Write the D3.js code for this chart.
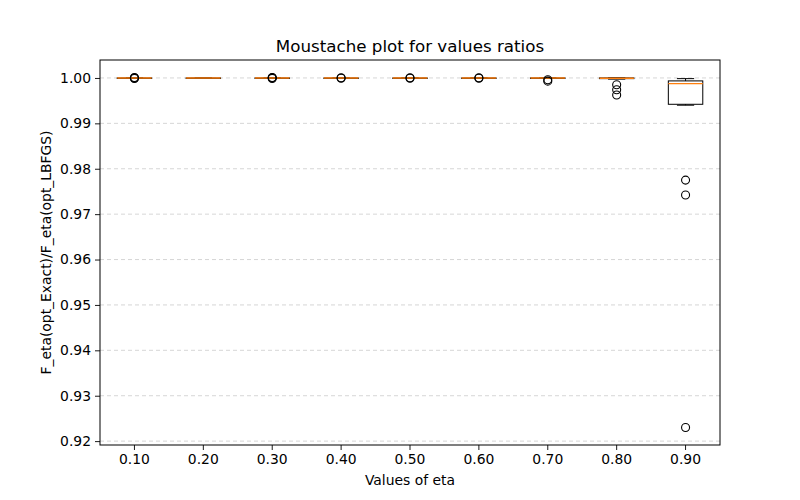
<!DOCTYPE html>
<html>
<head>
<meta charset="utf-8">
<script src="https://cdn.jsdelivr.net/npm/d3@7"></script>
<style>
 body { margin: 0; background: #fff; }
 text { font-family: "DejaVu Sans", sans-serif; }
</style>
</head>
<body>
<script>
const width = 800;
const height = 500;

// categories and box statistics
const etaLabels = ["0.10", "0.20", "0.30", "0.40", "0.50", "0.60", "0.70", "0.80", "0.90"];
const whiskerLow  = [0.99995, 0.99998, 0.99995, 0.99996, 0.99996, 0.99997, 0.99990, 0.99975, 0.99400];
const q1Values    = [0.99998, 0.99999, 0.99998, 0.99998, 0.99998, 0.99999, 0.99995, 0.99985, 0.99420];
const medians     = [0.99999, 1.00000, 0.99999, 0.99999, 0.99999, 1.00000, 0.99998, 0.99995, 0.99875];
const q3Values    = [1.00000, 1.00000, 1.00000, 1.00000, 1.00000, 1.00000, 1.00000, 1.00000, 0.99935];
const whiskerHigh = [1.00002, 1.00001, 1.00002, 1.00001, 1.00001, 1.00001, 1.00002, 1.00003, 0.99985];
const outliers = [
 [1.00000, 0.99990, 1.00008],
 [],
 [1.00010, 0.99990, 1.00003],
 [1.00005, 0.99992],
 [1.00005, 0.99993],
 [1.00006, 0.99994],
 [0.99960, 0.99930],
 [0.99850, 0.99740, 0.99625],
 [0.97750, 0.97420, 0.92300]
];
const yTicks = [0.92, 0.93, 0.94, 0.95, 0.96, 0.97, 0.98, 0.99, 1.00];

const margin = {left: 100, right: 80, top: 60, bottom: 55};
const plotW = width - margin.left - margin.right;
const plotH = height - margin.top - margin.bottom;

const boxes = etaLabels.map((label, i) => ({
 label: label,
 lo: whiskerLow[i], q1: q1Values[i], med: medians[i], q3: q3Values[i], hi: whiskerHigh[i],
 fliers: outliers[i]
}));

// y range with matplotlib style 5% padding
const allVals = boxes.flatMap(b => [b.lo, b.hi].concat(b.fliers));
const yMin = d3.min(allVals), yMax = d3.max(allVals);
const pad = (yMax - yMin) * 0.05;

const x = d3.scaleBand().domain(etaLabels).range([0, plotW]).padding(0);
const y = d3.scaleLinear().domain([yMin - pad, yMax + pad]).range([plotH, 0]);
const boxW = x.bandwidth() * 0.5;

const svg = d3.select("body").append("svg")
 .attr("width", width)
 .attr("height", height);

const g = svg.append("g").attr("transform", "translate(" + margin.left + "," + margin.top + ")");

// grid
g.append("g")
 .selectAll("line")
 .data(yTicks)
 .join("line")
  .attr("x1", 0).attr("x2", plotW)
  .attr("y1", d => y(d)).attr("y2", d => y(d))
  .attr("stroke", "#cccccc")
  .attr("stroke-width", 0.8)
  .attr("stroke-dasharray", "4,3");

// axes
const yAxis = g.append("g")
 .call(d3.axisLeft(y).tickValues(yTicks).tickFormat(d3.format(".2f")).tickSizeOuter(0).tickSize(5).tickPadding(4));
const xAxis = g.append("g")
 .attr("transform", "translate(0," + plotH + ")")
 .call(d3.axisBottom(x).tickSizeOuter(0).tickSize(5).tickPadding(4));
[xAxis, yAxis].forEach(a => {
 a.select(".domain").remove();
 a.selectAll("text").attr("font-size", "13.9px").attr("fill", "#000").attr("font-family", "DejaVu Sans, sans-serif");
 a.selectAll("line").attr("stroke", "#000").attr("stroke-width", 0.9);
});

const cx = d => x(d.label) + x.bandwidth() / 2;

const bg = g.append("g").selectAll("g").data(boxes).join("g");

// whiskers
bg.append("line")
 .attr("x1", cx).attr("x2", cx)
 .attr("y1", d => y(d.q1)).attr("y2", d => y(d.lo))
 .attr("stroke", "#000").attr("stroke-width", 1);
bg.append("line")
 .attr("x1", cx).attr("x2", cx)
 .attr("y1", d => y(d.q3)).attr("y2", d => y(d.hi))
 .attr("stroke", "#000").attr("stroke-width", 1);
// caps
bg.selectAll(".cap")
 .data(d => [d, d].map((b, k) => ({b: b, v: k ? b.hi : b.lo})))
 .join("line")
  .attr("class", "cap")
  .attr("x1", d => cx(d.b) - boxW / 4).attr("x2", d => cx(d.b) + boxW / 4)
  .attr("y1", d => y(d.v)).attr("y2", d => y(d.v))
  .attr("stroke", "#000").attr("stroke-width", 1);
// box
bg.append("rect")
 .attr("x", d => cx(d) - boxW / 2)
 .attr("width", boxW)
 .attr("y", d => y(d.q3))
 .attr("height", d => Math.max(0.5, y(d.q1) - y(d.q3)))
 .attr("fill", "none")
 .attr("stroke", "#000").attr("stroke-width", 1);
// median
bg.append("line")
 .attr("x1", d => cx(d) - boxW / 2).attr("x2", d => cx(d) + boxW / 2)
 .attr("y1", d => y(d.med)).attr("y2", d => y(d.med))
 .attr("stroke", "#ff7f0e").attr("stroke-width", 1.4);
// fliers
bg.selectAll("circle")
 .data(d => d.fliers.map(v => ({b: d, v: v})))
 .join("circle")
  .attr("cx", d => cx(d.b))
  .attr("cy", d => y(d.v))
  .attr("r", 4)
  .attr("fill", "none")
  .attr("stroke", "#000").attr("stroke-width", 1.1);

// frame
g.append("rect")
 .attr("width", plotW).attr("height", plotH)
 .attr("fill", "none").attr("stroke", "#000").attr("stroke-width", 1);

// labels
svg.append("text")
 .attr("x", margin.left + plotW / 2).attr("y", 52)
 .attr("text-anchor", "middle").attr("font-size", "16.7px")
 .text("Moustache plot for values ratios");
svg.append("text")
 .attr("x", margin.left + plotW / 2).attr("y", 485)
 .attr("text-anchor", "middle").attr("font-size", "13.9px")
 .text("Values of eta");
svg.append("text")
 .attr("transform", "translate(51," + (margin.top + plotH / 2) + ") rotate(-90)")
 .attr("text-anchor", "middle").attr("font-size", "13.9px")
 .text("F_eta(opt_Exact)/F_eta(opt_LBFGS)");
</script>
</body>
</html>
